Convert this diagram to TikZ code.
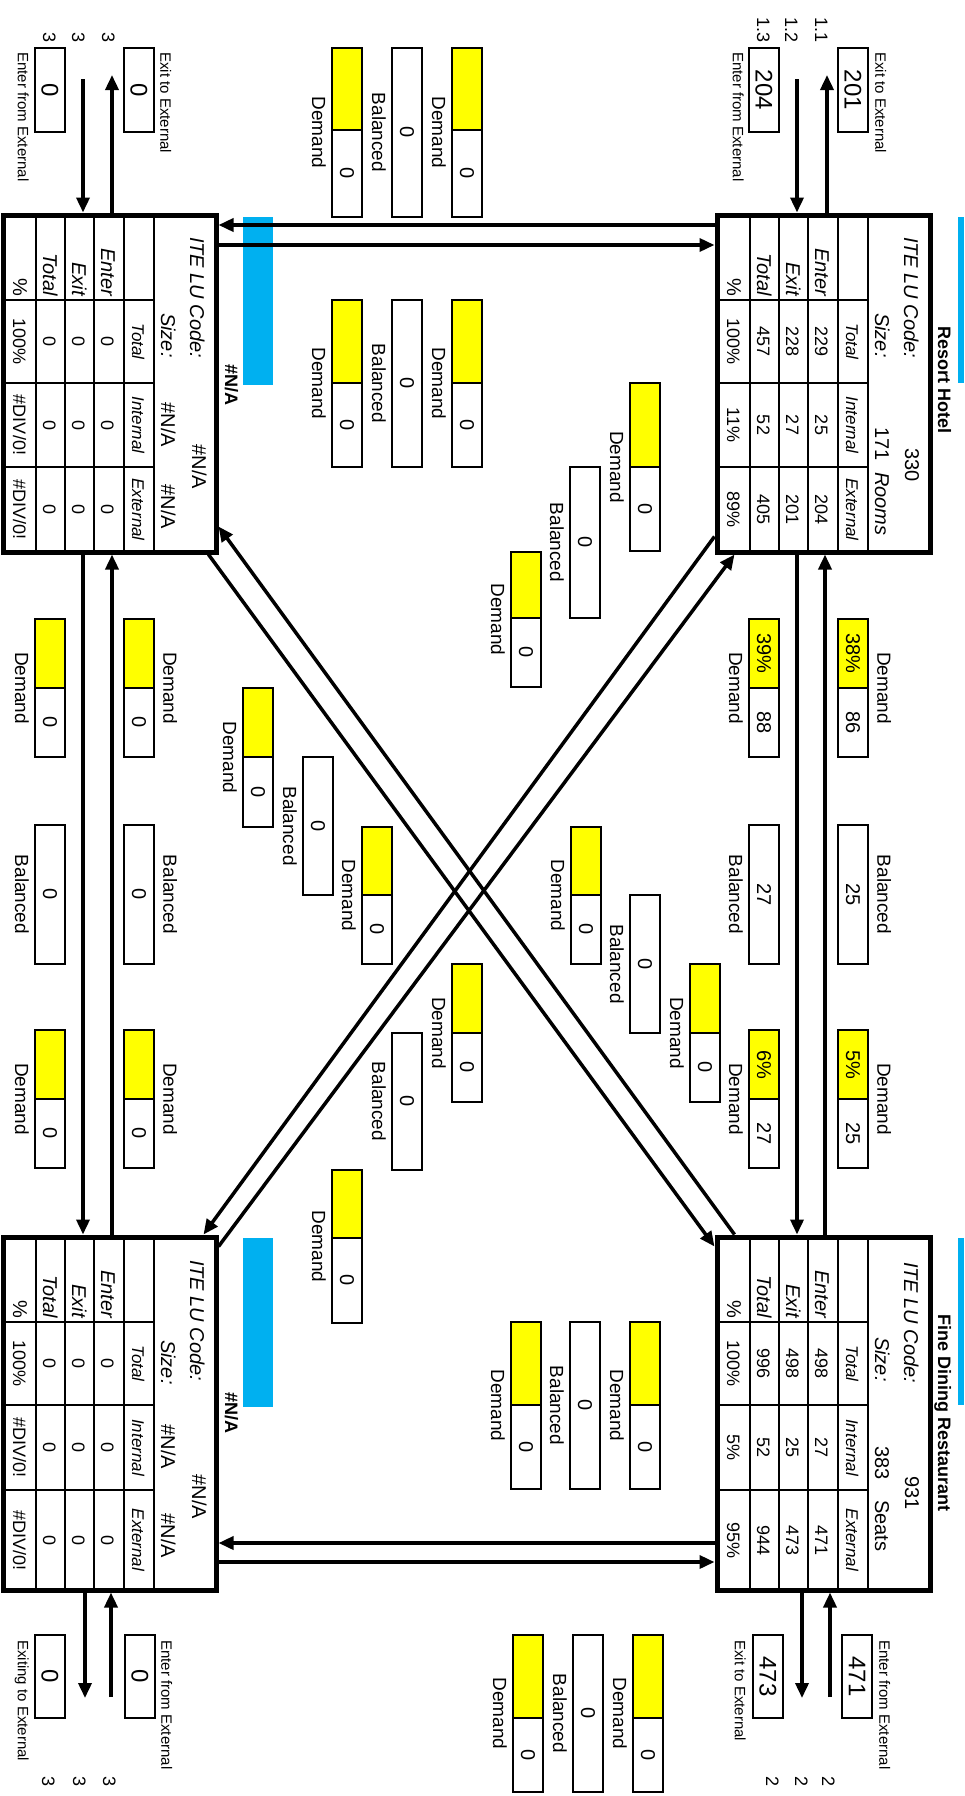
\documentclass[tikz,border=0pt]{standalone}
\usepackage{fontspec}
\setmainfont{Liberation Sans}[BoldFont={Liberation Sans Bold},
  ItalicFont={Liberation Sans Italic}, BoldItalicFont={Liberation Sans Bold Italic}]
\usetikzlibrary{arrows.meta,positioning,calc}

\definecolor{cellyellow}{HTML}{FFFF00}
\definecolor{barblue}{HTML}{00B0F0}

\tikzset{
  lutab/.style={draw, rectangle, line width=5pt, inner sep=0pt, fill=white},
  gridline/.style={line width=2.5pt},
  boxline/.style={line width=2.8pt},
  flow/.style={line width=3.5pt, -{Triangle[length=15pt,width=13pt]}},
  rtxt/.style={rotate=-90, inner sep=0pt},
  celltxt/.style={rtxt, font=\fontsize{18}{20}\selectfont},
  rowtxt/.style={rtxt, font=\fontsize{20}{22}\selectfont\itshape},
  hdtxt/.style={rtxt, font=\fontsize{17}{19}\selectfont\itshape},
  toptxt/.style={rtxt, font=\fontsize{20}{22}\selectfont},
  lbltxt/.style={rtxt, font=\fontsize{19}{21}\selectfont},
  valtxt/.style={rtxt, font=\fontsize{20}{22}\selectfont},
  exttxt/.style={rtxt, font=\fontsize{24}{26}\selectfont},
  smalltxt/.style={rtxt, font=\fontsize{15}{17}\selectfont},
  numtxt/.style={rtxt, font=\fontsize{18}{20}\selectfont},
  titletxt/.style={rtxt, font=\fontsize{18}{20}\selectfont\bfseries},
}

% table grid: left x, top y, three column dividers, bottom y
\newcommand{\tabgrid}[6]{%
  \foreach \dx in {33,62,91,121,151}
    \draw[gridline] ({#1+\dx},#2) -- ({#1+\dx},#6);
  \foreach \cy in {#3,#4,#5}
    \draw[gridline] (#1,\cy) -- ({#1+151},\cy);}
% header row: name, left x, column centres
\newcommand{\tabhead}[5]{%
  \node[hdtxt, anchor=base] (#1-hd1) at ({#2+129},#3) {Total};
  \node[hdtxt, anchor=base] (#1-hd2) at ({#2+129},#4) {Internal};
  \node[hdtxt, anchor=base] (#1-hd3) at ({#2+129},#5) {External};}
% data rows: name, left x, label edge, column centres, rows
\newcommand{\tabrows}[7]{%
  \foreach \bx/\lab/\va/\vb/\vc [count=\i] in {#7}{
    \node[rowtxt, anchor=base east] (#1-\i-l) at ({#2+\bx},#3) {\lab};
    \node[celltxt, anchor=base] (#1-\i-a) at ({#2+\bx},#4) {\va};
    \node[celltxt, anchor=base] (#1-\i-b) at ({#2+\bx},#5) {\vb};
    \node[celltxt, anchor=base] (#1-\i-c) at ({#2+\bx},#6) {\vc};}}
% label beside a box: name, left x, centre y, side, text
\newcommand{\boxlabel}[5]{%
  \if l#4\node[lbltxt, anchor=north] (#1-lab) at ({#2-6},{#3}) {#5};
  \else\node[lbltxt, anchor=south] (#1-lab) at ({#2+39},{#3}) {#5};\fi}
% demand box: name, left x, top y, split y, bottom y, upper text, value, side
\newcommand{\dmdbox}[8]{%
  \filldraw[boxline, fill=cellyellow] (#2,#3) rectangle ({#2+30},#4);
  \draw[boxline] (#2,#4) rectangle ({#2+30},#5);
  \if\relax\detokenize{#6}\relax\else
    \node[valtxt] (#1-p) at ({#2+15},{(#3+#4)/2}) {#6};\fi
  \node[valtxt] (#1-v) at ({#2+15},{(#4+#5)/2}) {#7};
  \boxlabel{#1}{#2}{(#3+#5)/2}{#8}{Demand}}
% balanced box: name, left x, top y, bottom y, value, side
\newcommand{\balbox}[6]{%
  \draw[boxline] (#2,#3) rectangle ({#2+30},#4);
  \node[valtxt] (#1-v) at ({#2+15},{(#3+#4)/2}) {#5};
  \boxlabel{#1}{#2}{(#3+#4)/2}{#6}{Balanced}}
% external count box: name, left x, top y, bottom y, value
\newcommand{\extbox}[5]{%
  \draw[boxline] (#2,#3) rectangle ({#2+30},#4);
  \node[exttxt] (#1) at ({#2+15},{(#3+#4)/2}) {#5};}

\begin{document}
\begin{tikzpicture}[x=1pt,y=-1pt]
    \useasboundingbox (0,0) rectangle (964,1796);

    % Land use tables
    \fill[barblue] (958,217) rectangle (964,383);
    \fill[barblue] (958,1238) rectangle (964,1405);
    \fill[barblue] (243,217) rectangle (273,385);
    \fill[barblue] (243,1238) rectangle (273,1407);

    \node[titletxt, anchor=base] (rh-title) at (938,380) {Resort Hotel};
    \node[titletxt, anchor=base] (fd-title) at (938,1413) {Fine Dining Restaurant};
    \node[titletxt, anchor=base] (tl-title) at (225,385) {\#N/A};
    \node[titletxt, anchor=base] (bl-title) at (225,1413) {\#N/A};

    \node[lutab, minimum width=213pt, minimum height=337pt] (rh) at (823.5,383.5) {};
    \tabgrid{717}{215}{300}{383}{467}{552}
    \tabhead{rh}{717}{341.5}{425}{509.5}
    \tabrows{rh}{717}{296}{341.5}{425}{509.5}{98/Enter/229/25/204, 69/Exit/228/27/201,
      40/Total/457/52/405, 10/{\upshape\%}/100\%/11\%/89\%}
    \node[toptxt, anchor=base west] (rh-code) at (904,237) {\textit{ITE LU Code:}};
    \node[toptxt, anchor=base] (rh-codeval) at (905,465) {330};
    \node[toptxt, anchor=base west] (rh-size) at (875,313) {\textit{Size:}};
    \node[toptxt, anchor=base] (rh-sizeval) at (875,444) {171};
    \node[toptxt, anchor=base west] (rh-unit) at (875,472) {\textit{Rooms}};

    \node[lutab, minimum width=213pt, minimum height=353pt] (fd) at (823.5,1413.5) {};
    \tabgrid{717}{1237}{1322}{1405}{1490}{1590}
    \tabhead{fd}{717}{1363.5}{1447.5}{1540}
    \tabrows{fd}{717}{1318}{1363.5}{1447.5}{1540}{98/Enter/498/27/471, 69/Exit/498/25/473,
      40/Total/996/52/944, 10/{\upshape\%}/100\%/5\%/95\%}
    \node[toptxt, anchor=base west] (fd-code) at (904,1262) {\textit{ITE LU Code:}};
    \node[toptxt, anchor=base] (fd-codeval) at (905,1493) {931};
    \node[toptxt, anchor=base west] (fd-size) at (875,1337) {\textit{Size:}};
    \node[toptxt, anchor=base] (fd-sizeval) at (875,1463) {383};
    \node[toptxt, anchor=base west] (fd-unit) at (875,1500) {Seats};

    \node[lutab, minimum width=213pt, minimum height=337pt] (tl) at (109.5,383.5) {};
    \tabgrid{3}{215}{300}{383}{467}{552}
    \tabhead{tl}{3}{341.5}{425}{509.5}
    \tabrows{tl}{3}{296}{341.5}{425}{509.5}{98/Enter/0/0/0, 69/Exit/0/0/0,
      40/Total/0/0/0, 10/{\upshape\%}/100\%/{\#DIV/0!}/{\#DIV/0!}}
    \node[toptxt, anchor=base west] (tl-code) at (190,237) {\textit{ITE LU Code:}};
    \node[toptxt, anchor=base] (tl-codeval) at (192,467) {\#N/A};
    \node[toptxt, anchor=base west] (tl-size) at (161,313) {\textit{Size:}};
    \node[toptxt, anchor=base] (tl-sizeval) at (161,425) {\#N/A};
    \node[toptxt, anchor=base] (tl-unit) at (161,507) {\#N/A};

    \node[lutab, minimum width=213pt, minimum height=353pt] (bl) at (109.5,1413.5) {};
    \tabgrid{3}{1237}{1322}{1405}{1490}{1590}
    \tabhead{bl}{3}{1363.5}{1447.5}{1540}
    \tabrows{bl}{3}{1318}{1363.5}{1447.5}{1540}{98/Enter/0/0/0, 69/Exit/0/0/0,
      40/Total/0/0/0, 10/{\upshape\%}/100\%/{\#DIV/0!}/{\#DIV/0!}}
    \node[toptxt, anchor=base west] (bl-code) at (190,1260) {\textit{ITE LU Code:}};
    \node[toptxt, anchor=base] (bl-codeval) at (192,1497) {\#N/A};
    \node[toptxt, anchor=base west] (bl-size) at (161,1340) {\textit{Size:}};
    \node[toptxt, anchor=base] (bl-sizeval) at (161,1447) {\#N/A};
    \node[toptxt, anchor=base] (bl-unit) at (161,1536) {\#N/A};

    % External trips
    \extbox{rh-outbox}{838}{48}{132}{201}
    \extbox{rh-inbox}{749}{48}{132}{204}
    \extbox{tl-outbox}{124}{48}{132}{0}
    \extbox{tl-inbox}{35}{48}{132}{0}
    \extbox{fd-inbox}{842}{1635}{1718}{471}
    \extbox{fd-outbox}{753}{1635}{1718}{473}
    \extbox{bl-inbox}{125}{1635}{1718}{0}
    \extbox{bl-outbox}{35}{1635}{1718}{0}
    \node[smalltxt, anchor=south west] (rh-outlab) at (875,52) {Exit to External};
    \node[smalltxt, anchor=north west] (rh-inlab) at (744,52) {Enter from External};
    \node[smalltxt, anchor=south west] (tl-outlab) at (160,52) {Exit to External};
    \node[smalltxt, anchor=north west] (tl-inlab) at (29,52) {Enter from External};
    \node[smalltxt, anchor=south west] (fd-inlab) at (879,1640) {Enter from External};
    \node[smalltxt, anchor=north west] (fd-outlab) at (746,1640) {Exit to External};
    \node[smalltxt, anchor=south west] (bl-inlab) at (161,1640) {Enter from External};
    \node[smalltxt, anchor=north west] (bl-outlab) at (29,1640) {Exiting to External};

    \node[numtxt, anchor=base east] (rh-n1) at (815,43) {1.1};
    \node[numtxt, anchor=base east] (rh-n2) at (785,43) {1.2};
    \node[numtxt, anchor=base east] (rh-n3) at (757,43) {1.3};
    \node[numtxt, anchor=base east] (tl-n1) at (102,43) {3};
    \node[numtxt, anchor=base east] (tl-n2) at (72,43) {3};
    \node[numtxt, anchor=base east] (tl-n3) at (43,43) {3};
    \node[numtxt, anchor=base west] (fd-n1) at (822,1776) {2};
    \node[numtxt, anchor=base west] (fd-n2) at (795,1776) {2};
    \node[numtxt, anchor=base west] (fd-n3) at (766,1776) {2};
    \node[numtxt, anchor=base west] (bl-n1) at (103,1776) {3};
    \node[numtxt, anchor=base west] (bl-n2) at (73,1776) {3};
    \node[numtxt, anchor=base west] (bl-n3) at (42,1776) {3};

    % Demand / balanced boxes
    \dmdbox{t1a}{332}{48}{130}{217}{}{0}{l}
    \balbox{t1b}{392}{48}{217}{0}{l}
    \dmdbox{t1c}{452}{48}{130}{217}{}{0}{l}
    \dmdbox{t2a}{332}{300}{383}{467}{}{0}{l}
    \balbox{t2b}{392}{300}{467}{0}{l}
    \dmdbox{t2c}{452}{300}{383}{467}{}{0}{l}

    \dmdbox{t3a}{630}{383}{467}{551}{}{0}{l}
    \balbox{t3b}{570}{467}{618}{0}{l}
    \dmdbox{t3c}{511}{552}{618}{687}{}{0}{l}

    \dmdbox{r1a}{838}{619}{688}{757}{38\%}{86}{r}
    \balbox{r1b}{838}{825}{964}{25}{r}
    \dmdbox{r1c}{838}{1030}{1099}{1168}{5\%}{25}{r}
    \dmdbox{r2a}{749}{619}{688}{757}{39\%}{88}{l}
    \balbox{r2b}{749}{825}{964}{27}{l}
    \dmdbox{r2c}{749}{1030}{1099}{1168}{6\%}{27}{l}

    \dmdbox{m1a}{571}{827}{895}{964}{}{0}{l}
    \balbox{m1b}{630}{895}{1033}{0}{l}
    \dmdbox{m1c}{690}{964}{1033}{1102}{}{0}{l}

    \dmdbox{l1a}{124}{619}{688}{757}{}{0}{r}
    \balbox{l1b}{124}{825}{964}{0}{r}
    \dmdbox{l1c}{124}{1030}{1099}{1168}{}{0}{r}
    \dmdbox{l2a}{35}{619}{688}{757}{}{0}{l}
    \balbox{l2b}{35}{825}{964}{0}{l}
    \dmdbox{l2c}{35}{1030}{1099}{1168}{}{0}{l}

    \dmdbox{m2a}{243}{688}{757}{827}{}{0}{l}
    \balbox{m2b}{303}{757}{895}{0}{l}
    \dmdbox{m2c}{362}{827}{895}{964}{}{0}{l}
    \dmdbox{m3a}{452}{964}{1033}{1102}{}{0}{l}
    \balbox{m3b}{392}{1033}{1170}{0}{l}
    \dmdbox{m3c}{332}{1170}{1238}{1323}{}{0}{l}

    \dmdbox{b1a}{511}{1322}{1405}{1489}{}{0}{l}
    \balbox{b1b}{570}{1322}{1489}{0}{l}
    \dmdbox{b1c}{630}{1322}{1405}{1489}{}{0}{l}
    \dmdbox{b2a}{513}{1635}{1718}{1792}{}{0}{l}
    \balbox{b2b}{573}{1635}{1792}{0}{l}
    \dmdbox{b2c}{633}{1635}{1718}{1792}{}{0}{l}

    % Connectors
    \coordinate (rh-out) at (827,75);
    \coordinate (rh-in) at (797,79);
    \coordinate (tl-out) at (112,75);
    \coordinate (tl-in) at (83,79);
    \coordinate (fd-out) at (802,1698);
    \coordinate (fd-in) at (830,1697);
    \coordinate (bl-out) at (85,1698);
    \coordinate (bl-in) at (111,1697);
    \draw[flow] (rh.north -| rh-out) -- (rh-out);
    \draw[flow] (rh-in) -- (rh-in |- rh.north);
    \draw[flow] (tl.north -| tl-out) -- (tl-out);
    \draw[flow] (tl-in) -- (tl-in |- tl.north);
    \draw[flow] (fd.south -| fd-out) -- (fd-out);
    \draw[flow] (fd-in) -- (fd-in |- fd.south);
    \draw[flow] (bl.south -| bl-out) -- (bl-out);
    \draw[flow] (bl-in) -- (bl-in |- bl.south);

    \coordinate (v1) at (797,0);
    \coordinate (v2) at (825,0);
    \coordinate (v3) at (83,0);
    \coordinate (v4) at (112,0);
    \coordinate (h1) at (0,225);
    \coordinate (h2) at (0,245);
    \coordinate (h3) at (0,1543);
    \coordinate (h4) at (0,1562);
    \draw[flow] (rh.south -| v1) -- (fd.north -| v1);
    \draw[flow] (fd.north -| v2) -- (rh.south -| v2);
    \draw[flow] (tl.south -| v3) -- (bl.north -| v3);
    \draw[flow] (bl.north -| v4) -- (tl.south -| v4);
    \draw[flow] (rh.west |- h1) -- (tl.east |- h1);
    \draw[flow] (tl.east |- h2) -- (rh.west |- h2);
    \draw[flow] (fd.west |- h3) -- (bl.east |- h3);
    \draw[flow] (bl.east |- h4) -- (fd.west |- h4);

    \draw[flow] ($(fd.north west)+(20,0)$) -- ($(tl.south east)+(0,-28)$);
    \draw[flow] ($(tl.south east)+(-10,0)$) -- ($(fd.north west)+(0,12)$);
    \draw[flow] ($(rh.south west)+(0,-18)$) -- ($(bl.north east)+(-15,0)$);
    \draw[flow] ($(bl.north east)+(0,12)$) -- ($(rh.south west)+(20,0)$);
\end{tikzpicture}
\end{document}
